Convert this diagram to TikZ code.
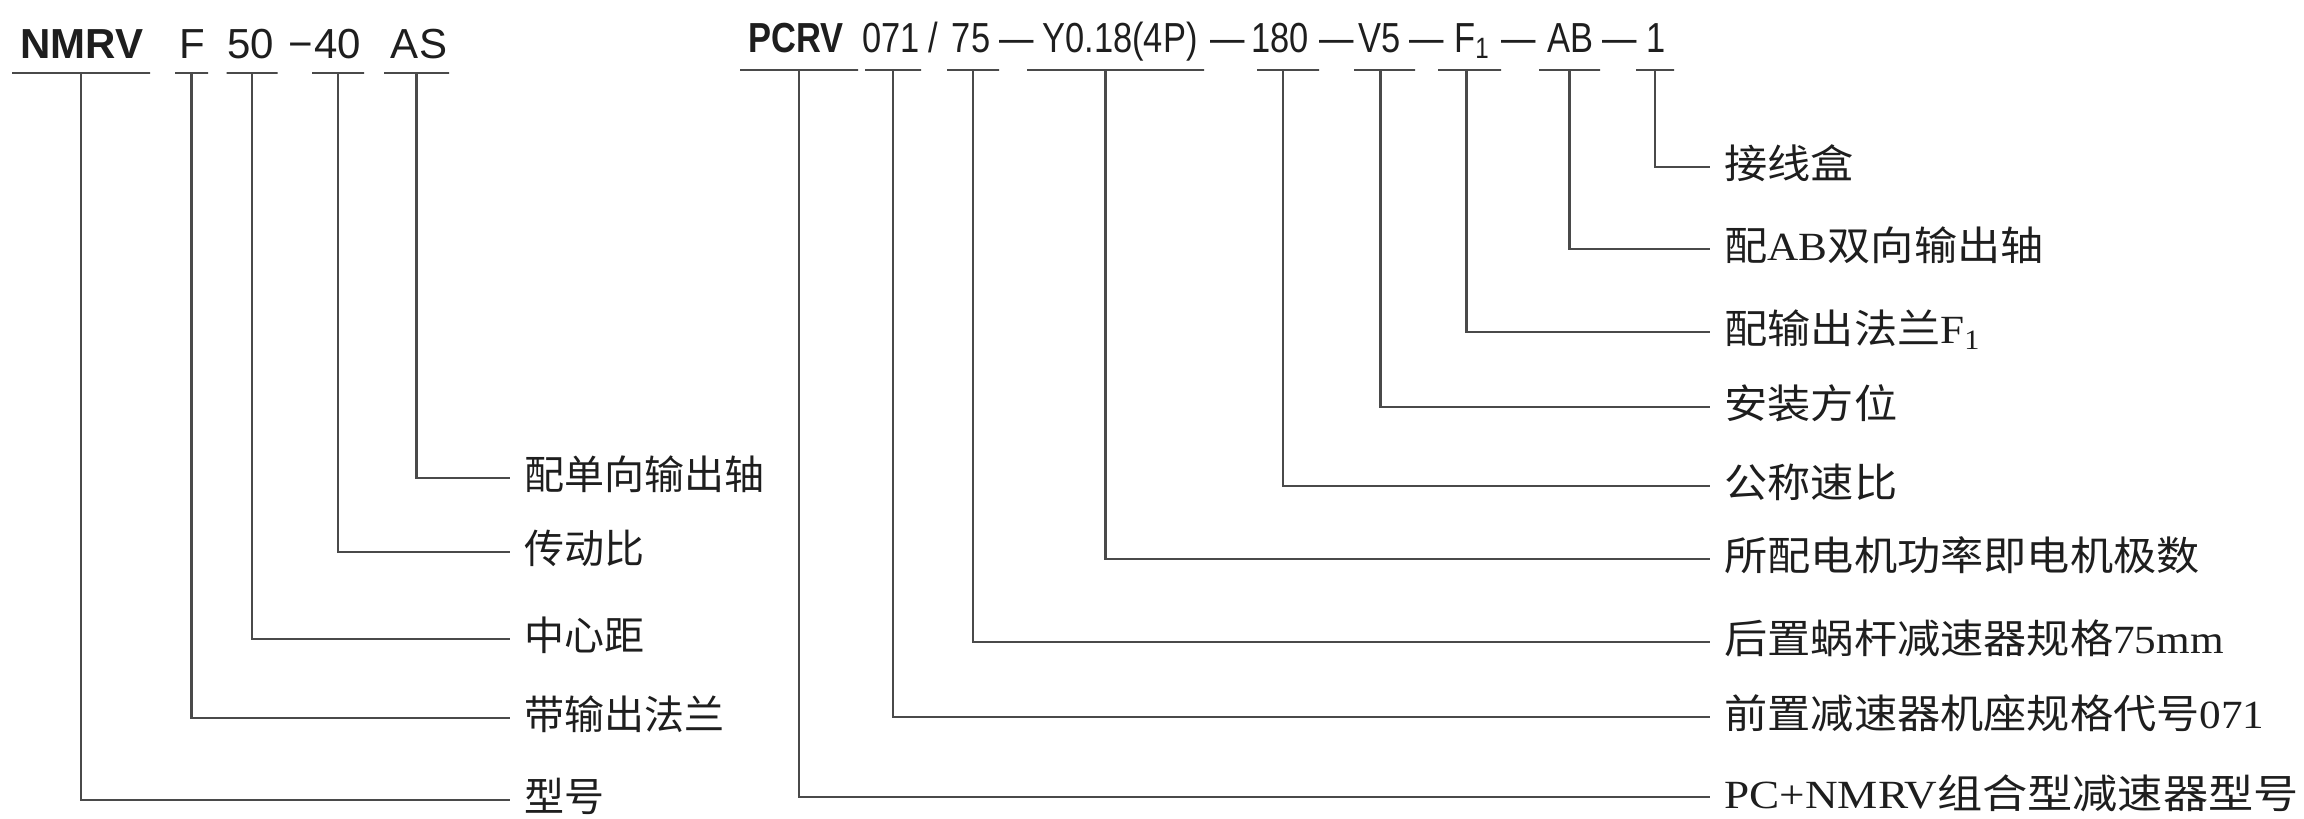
\documentclass[tikz,border=0pt]{standalone}
\usepackage{fontspec}
\setmainfont{Liberation Serif}
\newfontfamily\cjkL{Noto Sans CJK SC}
\newfontfamily\cjkR[FakeStretch=1.08]{Noto Sans CJK SC}
\newfontfamily\latR[FakeStretch=1.08]{Liberation Serif}
\newfontfamily\cjkRW[FakeStretch=1.13]{Noto Sans CJK SC}
\newfontfamily\latRW[FakeStretch=1.13]{Liberation Serif}
\newfontfamily\codeL{Liberation Sans}
\newfontfamily\codeR[FakeStretch=0.82]{Liberation Sans}
\definecolor{txt}{HTML}{1E1E1E}
\definecolor{ln}{HTML}{4A4A4A}
\begin{document}
\begin{tikzpicture}[x=0.5pt,y=-0.5pt,
  code/.style={anchor=base, inner sep=0pt, text=txt, font=\codeL\fontsize{21}{25}\selectfont},
  codeB/.style={code, font=\codeL\fontsize{21}{25}\selectfont\bfseries},
  coder/.style={anchor=base, inner sep=0pt, text=txt, font=\codeR\fontsize{21}{25}\selectfont},
  coderB/.style={coder, font=\codeR\fontsize{21}{25}\selectfont\bfseries},
  ul/.style={draw=ln, line width=1.2pt, inner sep=0pt, minimum height=0pt},
  conn/.style={draw=ln, line width=1.1pt},
  labL/.style={anchor=west, inner xsep=7pt, inner ysep=0pt, text height=15.6pt, text depth=4.4pt, text=txt, font=\fontsize{20}{24}\selectfont},
  labR/.style={labL}]
\fill[white] (0,0) rectangle (2304,819);
\useasboundingbox (0,0) rectangle (2304,819);

% ---------- left code ----------
\node[codeB] (cNMRV) at (82,58) {NMRV};
\node[code] (cF) at (192,58) {F};
\node[code] (c50) at (251,58) {50};
\node[code] (cMinus) at (301,58) {−};
\node[code] (c40) at (338,58) {40};
\node[code] (cAS) at (419,58) {AS};

\node[ul, minimum width=69pt] (uNMRV) at (81,73) {};
\node[ul, minimum width=16.5pt] (uF) at (191.5,73) {};
\node[ul, minimum width=25.5pt] (u50) at (252,73) {};
\node[ul, minimum width=26pt] (u40) at (338,73) {};
\node[ul, minimum width=32.5pt] (uAS) at (416.5,73) {};

\node[labL] (lAS) at (510,478) {\cjkL 配单向输出轴};
\node[labL] (l40) at (510,552) {\cjkL 传动比};
\node[labL] (l50) at (510,639) {\cjkL 中心距};
\node[labL] (lF) at (510,718) {\cjkL 带输出法兰};
\node[labL] (lNMRV) at (510,800) {\cjkL 型号};

\draw[conn] (uAS.center) |- (lAS.west);
\draw[conn] (u40.center) |- (l40.west);
\draw[conn] (u50.center) |- (l50.west);
\draw[conn] (uF.center) |- (lF.west);
\draw[conn] (uNMRV.center) |- (lNMRV.west);

% ---------- right code ----------
\node[coderB] (cPCRV) at (796,52) {PCRV};
\node[coder] (c071) at (891,52) {071};
\node[coder] (cSlash) at (933,52) {/};
\node[coder] (c75) at (971,52) {75};
\node[coder] (d1) at (1017,52) {—};
\node[coder] (cY) at (1120,52) {Y0.18(4P)};
\node[coder] (d2) at (1228,52) {—};
\node[coder] (c180) at (1280,52) {180};
\node[coder] (d3) at (1337,52) {—};
\node[coder] (cV5) at (1380,52) {V5};
\node[coder] (d4) at (1427,52) {—};
\node[coder] (cF1) at (1472,52) {F\textsubscript{1}};
\node[coder] (d5) at (1519,52) {—};
\node[coder] (cAB) at (1570,52) {AB};
\node[coder] (d6) at (1620,52) {—};
\node[coder] (c1) at (1656,52) {1};

\node[ul, minimum width=59pt] (uPCRV) at (799,70) {};
\node[ul, minimum width=28pt] (u071) at (893,70) {};
\node[ul, minimum width=26pt] (u75) at (973,70) {};
\node[ul, minimum width=88.5pt] (uY) at (1115.5,70) {};
\node[ul, minimum width=31pt] (u180) at (1288,70) {};
\node[ul, minimum width=30.5pt] (uV5) at (1384.5,70) {};
\node[ul, minimum width=31.5pt] (uF1) at (1469.5,70) {};
\node[ul, minimum width=30.5pt] (uAB) at (1569.5,70) {};
\node[ul, minimum width=19pt] (u1) at (1655,70) {};

\node[labR] (l1) at (1710,167) {\cjkR 接线盒};
\node[labR] (lAB) at (1710,249) {\cjkR 配\latR AB\cjkR 双向输出轴};
\node[labR] (lF1) at (1710,332) {\cjkR 配输出法兰\latR F\textsubscript{1}};
\node[labR] (lV5) at (1710,407) {\cjkR 安装方位};
\node[labR] (l180) at (1710,486) {\cjkR 公称速比};
\node[labR] (lY) at (1710,559) {\cjkR 所配电机功率即电机极数};
\node[labR] (l75) at (1710,642) {\cjkR 后置蜗杆减速器规格\latR 75mm};
\node[labR] (l071) at (1710,717) {\cjkR 前置减速器机座规格代号\latR 071};
\node[labR] (lPCRV) at (1710,797) {\latRW PC+NMRV\cjkRW 组合型减速器型号};

\draw[conn] (u1.center) |- (l1.west);
\draw[conn] (uAB.center) |- (lAB.west);
\draw[conn] ([xshift=-1.5pt]uF1.center) |- (lF1.west);
\draw[conn] ([xshift=-2pt]uV5.center) |- (lV5.west);
\draw[conn] ([xshift=-2.5pt]u180.center) |- (l180.west);
\draw[conn] ([xshift=-5pt]uY.center) |- (lY.west);
\draw[conn] (u75.center) |- (l75.west);
\draw[conn] (u071.center) |- (l071.west);
\draw[conn] (uPCRV.center) |- (lPCRV.west);
\end{tikzpicture}
\end{document}
